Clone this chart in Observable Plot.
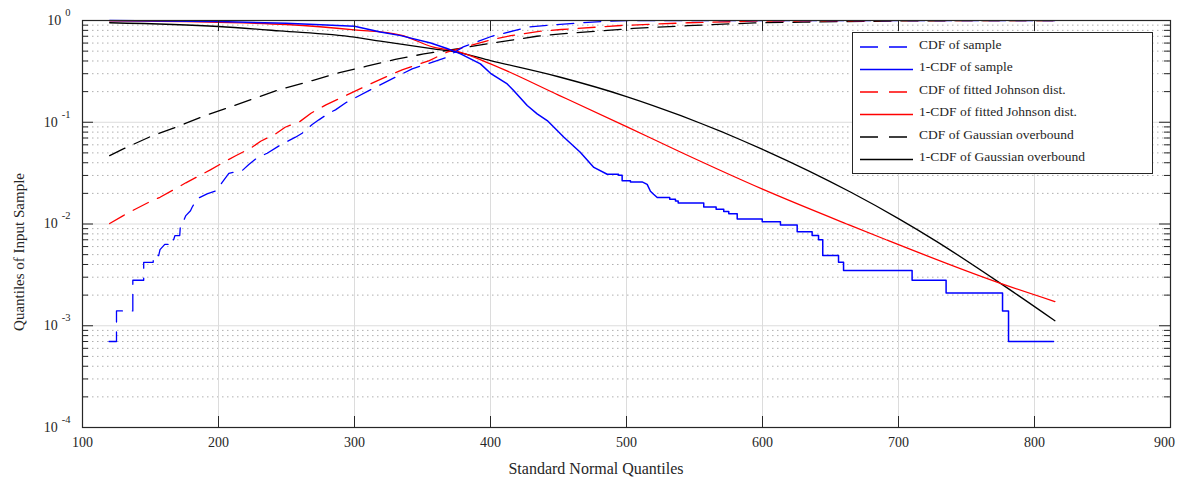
<!DOCTYPE html>
<html><head><meta charset="utf-8">
<script src="https://cdn.jsdelivr.net/npm/d3@7"></script>
<script src="https://cdn.jsdelivr.net/npm/@observablehq/plot@0.6"></script>
<style>body{margin:0;background:#fff} svg{display:block}</style>
</head><body><div id="chart"></div>
<script>
// ---- tick labels ----
const xTicks = [100, 200, 300, 400, 500, 600, 700, 800, 900];
const yMajor = [1e-4, 1e-3, 1e-2, 1e-1, 1];
const yMinorMult = [2, 3, 4, 5, 6, 7, 8, 9];

// ---- series ----
const sampleCdfX = [119.5,125,125,137,137,145,145,152,152,156,157,160.5,163.5,163.5,167,168,171.5,172,174,176,179.4,180.6,184.3,191.6,198.5,202.7,207.6,217.4,222.3,228.4,235.8,246.8,249.3,256.6,261.5,268.9,273.8,281.1,286,294.1,313,342.4,367,380,401,429,466,486,500,560,815];
const sampleCdfY = [0.0007,0.0007,0.0014,0.0014,0.0028,0.0028,0.0042,0.0042,0.0049,0.0049,0.0056,0.0063,0.0063,0.0070,0.0070,0.0077,0.0077,0.0098,0.0105,0.0121,0.0135,0.0146,0.0177,0.0198,0.0213,0.0257,0.0315,0.0335,0.0384,0.0447,0.0496,0.0613,0.0636,0.0713,0.078,0.0949,0.1056,0.1227,0.1324,0.157,0.213,0.335,0.43,0.55,0.70,0.867,0.95,0.985,0.995,0.998,0.9993];

const sampleSfX = [120,200,250,300,319,334,356,368,378,392.6,400,412.3,417,427,434.3,441.7,454,466,476,485.8,494.1,494.1,496.8,496.8,502.9,502.9,511.5,515.2,517.6,519.9,522.6,531.8,531.8,536,536,538,538,556.8,556.8,565.9,565.9,571.5,571.5,575.2,575.2,581.4,581.4,599.8,599.8,613.2,613.2,625.5,625.5,636.5,636.5,641.2,641.2,644.3,644.3,655.9,655.9,659.6,659.6,710,710,735,735,776.5,776.5,780.9,780.9,814];
const sampleSfY = [0.9993,0.975,0.94,0.88,0.77,0.71,0.6,0.53,0.47,0.375,0.303,0.238,0.205,0.146,0.121,0.104,0.0713,0.0507,0.036,0.0308,0.0308,0.0301,0.0301,0.0266,0.0266,0.0259,0.0259,0.0245,0.021,0.0196,0.0182,0.0182,0.0175,0.0175,0.0168,0.0168,0.0161,0.0161,0.0147,0.0147,0.014,0.014,0.0133,0.0133,0.0126,0.0126,0.0112,0.0112,0.0105,0.0105,0.0098,0.0098,0.0084,0.0084,0.0077,0.0077,0.0070,0.0070,0.0049,0.0049,0.0042,0.0042,0.0035,0.0035,0.0028,0.0028,0.0021,0.0021,0.0014,0.0014,0.0007,0.0007];

const johnsonCdfX = [120,130,138,150,157,168,176,186,194,205,213,224,231,242,249,260,268,279,317,335,355,368,401,415,437,452,496,545,594,650,700,815];
const johnsonCdfY = [0.0101,0.0121,0.0138,0.0167,0.0183,0.0221,0.0254,0.0299,0.034,0.0414,0.0471,0.056,0.065,0.0769,0.0893,0.102,0.1227,0.148,0.257,0.327,0.404,0.488,0.65,0.71,0.785,0.816,0.893,0.95,0.985,0.993,0.996,0.999];

const johnsonSfX = [120,200,250,300,334,358,375,400,450,500,540,600,665,690,775,815];
const johnsonSfY = [0.99,0.96,0.913,0.81,0.72,0.547,0.5,0.375,0.185,0.0907,0.0507,0.022,0.00964,0.00708,0.00261,0.00173];

const gaussCdfX = [120,130,150,170,190,210,244,269,289,309,330,351,368,401,434,452,505,545,594,630,700,750,815];
const gaussCdfY = [0.047,0.0547,0.0723,0.0907,0.116,0.1436,0.208,0.257,0.308,0.356,0.414,0.47,0.507,0.60,0.70,0.74,0.835,0.89,0.947,0.965,0.99,0.996,0.999];

const gaussSfX = [120,200,245,300,319,358,375,400,450,500,540,602,665,700,727,775,815];
const gaussSfY = [0.95,0.873,0.79,0.686,0.626,0.527,0.49,0.404,0.28,0.179,0.116,0.0527,0.0205,0.0113,0.00687,0.00261,0.00112];

const legendLabels = ["CDF of sample","1-CDF of sample","CDF of fitted Johnson dist.","1-CDF of fitted Johnson dist.","CDF of Gaussian overbound","1-CDF of Gaussian overbound"];
const seriesColors = ["#0000ff","#0000ff","#ff0000","#ff0000","#000000","#000000"];
const seriesDashed = [true,false,true,false,true,false];

// ---- build ----
const pts = (xs, ys) => xs.map((x, i) => ({x, y: ys[i]}));
const yMinor = [];
for (const d of yMajor.slice(0, -1)) for (const m of yMinorMult) yMinor.push(d * m);

const W = 1179, H = 479, ML = 82, MR = 9, MT = 20, MB = 52;
const PW = W - ML - MR, PH = H - MT - MB;
const DASH = "17,10";
const lw = 1.3;
const FONT = "'Liberation Serif', 'Times New Roman', serif";

const svg = Plot.plot({
  width: W, height: H,
  marginLeft: ML, marginRight: MR, marginTop: MT, marginBottom: MB,
  style: {fontFamily: FONT, fontSize: "14px", color: "#262626", background: "#fff"},
  x: {domain: [100, 900], axis: null},
  y: {type: "log", domain: [1e-4, 1], axis: null},
  marks: [
    Plot.ruleY(yMinor, {stroke: "#b0b0b0", strokeDasharray: "1.5,3.5"}),
    Plot.ruleX(xTicks.slice(1, -1), {stroke: "#dcdcdc"}),
    Plot.ruleY(yMajor.slice(1, -1), {stroke: "#dcdcdc"}),
    Plot.line(pts(gaussCdfX, gaussCdfY), {x: "x", y: "y", stroke: "#000", strokeWidth: lw, strokeDasharray: DASH}),
    Plot.line(pts(gaussSfX, gaussSfY), {x: "x", y: "y", stroke: "#000", strokeWidth: lw, curve: "monotone-x"}),
    Plot.line(pts(johnsonCdfX, johnsonCdfY), {x: "x", y: "y", stroke: "#ff0000", strokeWidth: lw, strokeDasharray: DASH}),
    Plot.line(pts(johnsonSfX, johnsonSfY), {x: "x", y: "y", stroke: "#ff0000", strokeWidth: lw, curve: "monotone-x"}),
    Plot.line(pts(sampleCdfX, sampleCdfY), {x: "x", y: "y", stroke: "#0000ff", strokeWidth: lw, strokeDasharray: DASH}),
    Plot.line(pts(sampleSfX, sampleSfY), {x: "x", y: "y", stroke: "#0000ff", strokeWidth: 1.5}),
    // inward ticks
    Plot.ruleX(xTicks, {stroke: "#262626", insetTop: PH - 11}),
    Plot.ruleX(xTicks, {stroke: "#262626", insetBottom: PH - 11}),
    Plot.ruleY(yMajor, {stroke: "#262626", insetRight: PW - 11}),
    Plot.ruleY(yMajor, {stroke: "#262626", insetLeft: PW - 11}),
    Plot.ruleY(yMinor, {stroke: "#262626", insetRight: PW - 6}),
    Plot.ruleY(yMinor, {stroke: "#262626", insetLeft: PW - 6}),
    Plot.frame({stroke: "#262626", strokeWidth: 1.2}),
    Plot.axisX(xTicks, {tickSize: 0, tickPadding: 10, label: null, fontSize: 14, fill: "#262626"}),
    Plot.axisY(yMajor, {tickSize: 0, tickPadding: 12, label: null, fontSize: 14, fill: "#262626",
      tickFormat: d => "e" + Math.round(Math.log10(d))})
  ]
});

const s = d3.select(svg);
// superscript exponents on y tick labels
s.selectAll('g[aria-label="y-axis tick label"] text').each(function () {
  const e = this.textContent.replace("e", "");
  this.textContent = "";
  const t = d3.select(this);
  t.append("tspan").text("10");
  t.append("tspan").attr("dx", 4).attr("dy", -9).attr("font-size", 10.5).text(e);
});
// keep the last x tick label inside the picture
s.selectAll('g[aria-label="x-axis tick label"] text').filter(function () { return this.textContent === "900"; })
  .attr("dx", -6);

// axis titles
s.append("text").attr("x", 596).attr("y", 474).attr("text-anchor", "middle")
  .attr("font-family", FONT).attr("font-size", 16).attr("fill", "#262626").text("Standard Normal Quantiles");
s.append("text").attr("transform", "translate(24,252) rotate(-90)").attr("text-anchor", "middle")
  .attr("font-family", FONT).attr("font-size", 15).attr("fill", "#262626").text("Quantiles of Input Sample");

// legend inside the axes
const lg = s.append("g").attr("font-family", FONT).attr("font-size", 13.5).attr("text-anchor", "start");
lg.append("rect").attr("x", 852.5).attr("y", 32.5).attr("width", 300).attr("height", 141)
  .attr("fill", "#fff").attr("stroke", "#262626").attr("stroke-width", 1);
legendLabels.forEach((lab, i) => {
  const yy = 47 + i * 22.5;
  lg.append("line").attr("x1", 860).attr("x2", seriesDashed[i] ? 907 : 913).attr("y1", yy).attr("y2", yy)
    .attr("stroke", seriesColors[i]).attr("stroke-width", 1.3)
    .attr("stroke-dasharray", seriesDashed[i] ? "18,11" : null);
  lg.append("text").attr("x", 919).attr("y", yy + 1.5).attr("fill", "#262626").text(lab);
});

document.getElementById("chart").append(svg);
</script>
</body></html>
